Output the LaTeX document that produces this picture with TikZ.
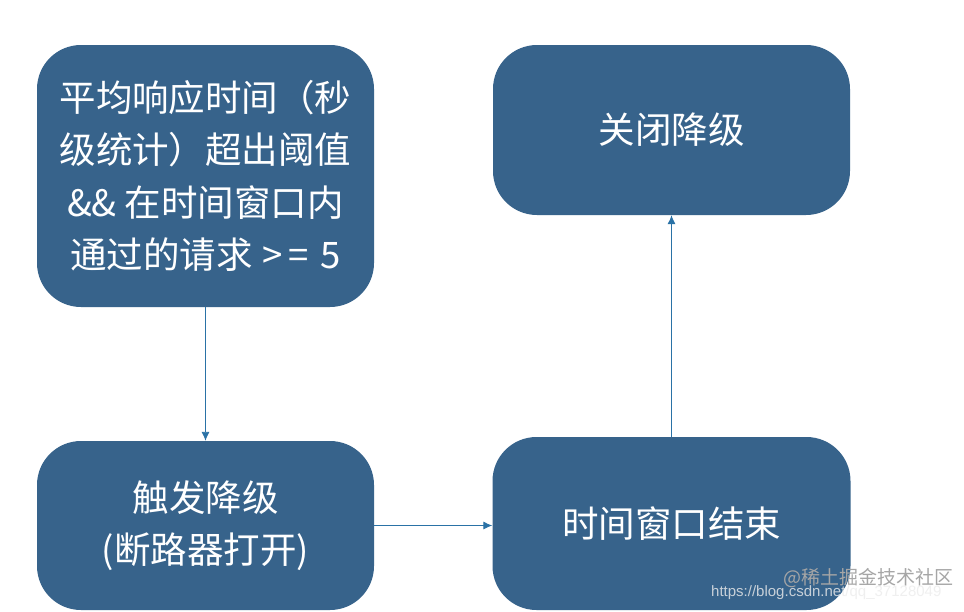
\documentclass[tikz,border=0pt]{standalone}
\usepackage{fontspec}
\newfontfamily\cjk{Noto Sans CJK SC}
\newfontfamily\wmfont{Liberation Sans}
\usetikzlibrary{arrows.meta}
\definecolor{boxblue}{HTML}{37638B}
\definecolor{arrowblue}{HTML}{2A72A6}
\tikzset{
  flowbox/.style={rectangle, rounded corners=44pt, fill=boxblue, draw=none,
    text=white, font=\cjk\fontsize{36.5}{52.5}\selectfont, align=center, inner sep=0pt},
  flowarrow/.style={draw=arrowblue, line width=0.9pt, -{Latex[length=9pt,width=8pt]}},
}
\begin{document}
\begin{tikzpicture}[x=1pt,y=-1pt]
\useasboundingbox[fill=white] (0,0) rectangle (964,611);
\node[flowbox, minimum width=337pt, minimum height=262pt] (tl) at (205.5,176)
  {平均响应时间（秒\\级统计）超出阈值\\\&\& 在时间窗口内\\通过的请求\hspace{10pt}>\hspace{5pt}=\hspace{12pt}5};
\node[flowbox, minimum width=357pt, minimum height=170pt] (tr) at (671.5,130) {关闭降级};
\node[flowbox, minimum width=337pt, minimum height=169pt] (bl) at (205.5,525.5)
  {触发降级\\(断路器打开)};
\node[flowbox, minimum width=358pt, minimum height=173pt] (br) at (671.5,523.5) {时间窗口结束};
\draw[flowarrow] (tl.south) -- (bl.north);
\draw[flowarrow] (bl.east) -- (bl.east -| br.west);
\draw[flowarrow] (br.north) -- (tr.south);
\node[anchor=west, inner sep=0pt, text=gray!70, font=\cjk\fontsize{19}{19}\selectfont] (wm1) at (783,578) {@稀土掘金技术社区};
\node[anchor=west, inner sep=0pt, text=white!85!gray, opacity=0.8, font=\wmfont\fontsize{15}{15}\selectfont] (wm2) at (711,593) {https://blog.csdn.net/qq\_37128049};
\end{tikzpicture}
\end{document}
